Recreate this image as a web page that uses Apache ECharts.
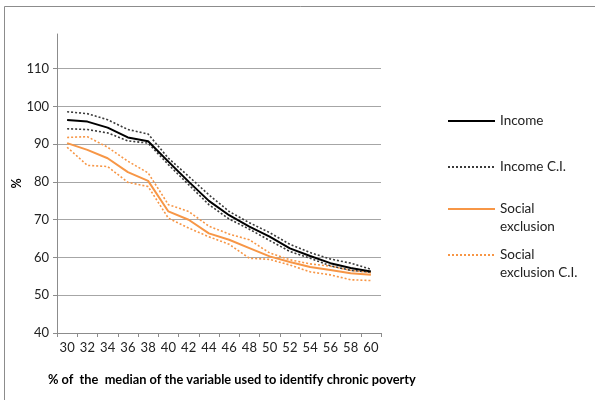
<!DOCTYPE html>
<html>
<head>
<meta charset="utf-8">
<script src="https://cdn.jsdelivr.net/npm/echarts@6/dist/echarts.min.js"></script>
<style>
  html, body { margin: 0; padding: 0; background: #fff; }
  #chart { width: 595px; height: 400px; }
</style>
</head>
<body>
<div id="chart"></div>
<script>
// Poverty threshold (% of the median) on the horizontal axis
const thresholds = ['30','32','34','36','38','40','42','44','46','48','50','52','54','56','58','60'];

// Share of chronically poor identified (%) and confidence bounds
const income      = [96.4, 96.0, 94.4, 91.8, 90.8, 85.4, 80.1, 75.0, 71.2, 68.2, 65.5, 62.4, 60.4, 58.5, 57.2, 56.3];
const incomeUpper = [98.6, 98.1, 96.5, 93.9, 92.7, 86.3, 81.5, 76.6, 72.2, 69.2, 66.6, 63.5, 61.3, 59.6, 58.5, 56.9];
const incomeLower = [94.1, 93.9, 93.0, 90.9, 90.3, 84.6, 79.3, 74.0, 70.2, 67.5, 64.5, 61.6, 59.8, 57.8, 56.6, 56.1];

const social      = [90.3, 88.5, 86.3, 82.6, 80.3, 72.2, 70.0, 66.4, 64.7, 62.5, 60.3, 58.8, 57.5, 56.7, 55.8, 55.4];
const socialUpper = [91.8, 92.0, 89.2, 85.5, 82.4, 74.0, 72.2, 68.3, 66.2, 64.7, 61.2, 59.4, 58.3, 57.7, 56.6, 56.0];
const socialLower = [89.2, 84.4, 84.1, 79.9, 78.8, 70.4, 67.8, 65.5, 63.5, 59.8, 59.5, 58.0, 56.2, 55.4, 54.1, 53.9];

const yTicks = [40, 50, 60, 70, 80, 90, 100, 110];

// Legend entries; wrapped names get a leading blank line so the
// line sample sits beside their first line of text
const legendLabels = {
  'Income': 'Income',
  'Income C.I.': 'Income C.I.',
  'Social exclusion': '\u00a0\nSocial\nexclusion',
  'Social exclusion C.I.': '\u00a0\nSocial\nexclusion C.I.'
};

const FONT = 'Lato, "Open Sans", sans-serif';
const BLACK = '#000000';
const CI_GRAY = '#3a3a3a';
const ORANGE = '#F79646';

const chart = echarts.init(document.getElementById('chart'), null, { renderer: 'canvas' });

function lineSeries(name, data, color, width, dotted, z) {
  return {
    name: name,
    type: 'line',
    data: data,
    symbol: 'none',
    silent: true,
    z: z,
    lineStyle: { color: color, width: width, type: dotted ? [2, 2] : 'solid' },
    itemStyle: { color: color }
  };
}

function legendBox(name, top) {
  return {
    data: [name],
    left: 447,
    top: top,
    padding: 0,
    itemWidth: 47,
    itemHeight: 12,
    itemGap: 0,
    selectedMode: false,
    itemStyle: { opacity: 0 },
    formatter: function (n) { return legendLabels[n]; },
    textStyle: {
      fontFamily: FONT,
      fontSize: 13.5,
      color: '#222',
      lineHeight: 18
    }
  };
}

chart.setOption({
  animation: false,
  backgroundColor: '#ffffff',
  graphic: [{
    type: 'rect',
    shape: { x: 4.5, y: 6.5, width: 700, height: 500 },
    style: { fill: 'none', stroke: '#8c8c8c', lineWidth: 1 },
    silent: true
  }],
  grid: { left: 57, right: 214, top: 34, bottom: 67, containLabel: false, outerBoundsMode: 'none' },
  legend: [
    legendBox('Income', 112),
    legendBox('Income C.I.', 158),
    legendBox('Social exclusion', 182),
    legendBox('Social exclusion C.I.', 228)
  ],
  xAxis: {
    type: 'category',
    data: thresholds,
    boundaryGap: true,
    name: '% of  the  median of the variable used to identify chronic poverty',
    nameLocation: 'start',
    nameGap: 9,
    nameMoveOverlap: false,
    nameTextStyle: {
      fontFamily: FONT, fontSize: 12.8, fontWeight: 'bold', color: '#000',
      align: 'left', verticalAlign: 'top', padding: [40, 0, 0, 0]
    },
    axisLine: { lineStyle: { color: '#8c8c8c', width: 1 } },
    axisTick: { show: true, length: 4, lineStyle: { color: '#8c8c8c' } },
    axisLabel: { fontFamily: FONT, fontSize: 13, color: '#222', margin: 8, interval: 0 },
    splitLine: { show: false }
  },
  yAxis: {
    type: 'value',
    min: 40,
    max: 119.2,
    name: '%',
    nameLocation: 'middle',
    nameGap: 34,
    nameMoveOverlap: false,
    nameRotate: 90,
    nameTextStyle: { fontFamily: FONT, fontSize: 12.5, fontWeight: 'bold', color: '#000' },
    axisLine: { show: true, lineStyle: { color: '#8c8c8c', width: 1 } },
    axisTick: { show: true, length: 4, customValues: yTicks, lineStyle: { color: '#8c8c8c' } },
    axisLabel: { fontFamily: FONT, fontSize: 13, color: '#222', margin: 8, customValues: yTicks },
    splitLine: { show: true, lineStyle: { color: '#a6a6a6', width: 1 } }
  },
  series: [
    lineSeries('Income C.I.', incomeUpper, CI_GRAY, 1.6, true, 3),
    lineSeries('Income C.I.', incomeLower, CI_GRAY, 1.6, true, 3),
    lineSeries('Social exclusion C.I.', socialUpper, ORANGE, 1.6, true, 2),
    lineSeries('Social exclusion C.I.', socialLower, ORANGE, 1.6, true, 2),
    lineSeries('Social exclusion', social, ORANGE, 2, false, 4),
    lineSeries('Income', income, BLACK, 2, false, 5)
  ]
});
</script>
</body>
</html>
